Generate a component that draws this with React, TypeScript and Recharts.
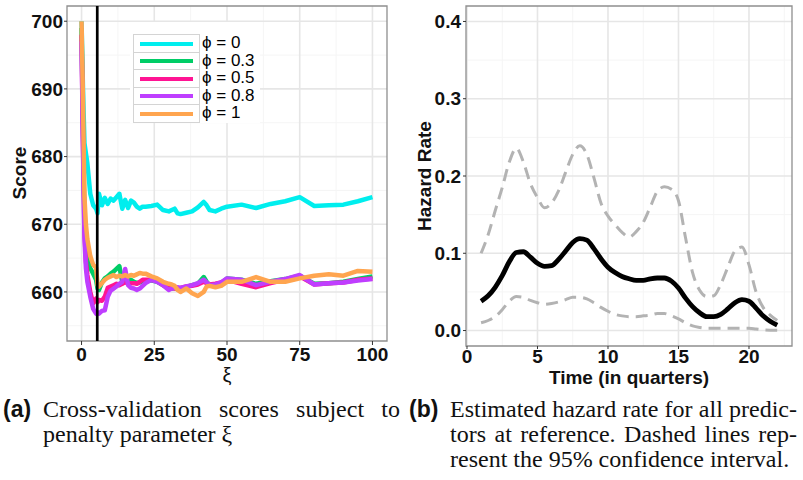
import { LineChart, Line, XAxis, YAxis, CartesianGrid, ReferenceLine, ReferenceArea } from "recharts";

// ---- panel (a): cross-validation score vs penalty xi ----
const xi = [
  0, 0.5, 1, 1.5, 2, 3, 4, 5, 5.5, 6, 7, 8, 9, 10, 11, 12, 13, 14, 15, 16, 17, 18, 19, 20, 21, 22, 24, 26,
  28, 30, 31, 32, 33, 34, 36, 38, 40, 42, 43, 44, 46, 48, 50, 55, 60, 65, 70, 75, 80, 85, 90, 95, 100,
];
const phi0 = [
  700, 690, 682, 680.5, 679, 674.5, 672.8, 672.3, 671.6, 674.5, 672.8, 673.9, 673, 673.8, 673.5, 674, 674.5,
  672.3, 673.6, 672.4, 673.5, 673.2, 672.6, 672.3, 672.6, 672.6, 672.7, 672.9, 672.1, 671.9, 672.1, 672.3,
  671.6, 671.5, 671.7, 671.9, 672.5, 673.3, 672.8, 672.1, 671.9, 672.3, 672.6, 672.9, 672.4, 673, 673.4, 674,
  672.7, 672.8, 672.9, 673.4, 674,
];
const phi03 = [
  699, 684, 671, 666.5, 664.8, 663.5, 662.7, 661.8, 660.5, 660.3, 661.4, 662, 662.3, 662.7, 663, 663.4, 663.8,
  661.5, 662.4, 661.6, 661.8, 661.5, 661.3, 661.4, 661.6, 661.6, 661.7, 661.5, 661, 660.5, 660.5, 660.6, 660.4,
  660.4, 660.7, 661, 661.2, 662.2, 661.5, 661, 661.1, 661.3, 662, 661.8, 661.2, 661.6, 661.9, 662.4, 661.2,
  661.3, 661.5, 661.9, 662.3,
];
const phi05 = [
  698, 682, 669, 664.5, 662.5, 660, 658.3, 659, 658.5, 658.8, 658.7, 659.3, 660.6, 660.8, 661, 661.2, 661,
  661.2, 661.5, 661.2, 661.3, 661.3, 661.2, 661.5, 661.8, 661.8, 661.8, 661.6, 661, 660.8, 660.6, 660.5, 660.5,
  660.6, 660.8, 660.9, 661.1, 661.5, 661.3, 661.1, 661.2, 661.4, 661.8, 661.2, 660.7, 661.3, 661.8, 662.3,
  661.1, 661.3, 661.4, 661.8, 662,
];
const phi08 = [
  697, 681, 668, 663.5, 661.5, 659.3, 657.5, 656.8, 657, 656.8, 657.2, 657.3, 659.3, 660.2, 660.5, 660.8,
  661.2, 661.5, 663.4, 661, 660.6, 660.5, 660.3, 660.5, 660.9, 661.3, 661.8, 661.5, 661, 660.3, 660.5, 660.6,
  660.7, 660.6, 660.8, 661, 661.3, 661.8, 661.4, 661, 661.1, 661.4, 662, 661.8, 661, 661.5, 661.9, 662.5,
  661.1, 661.3, 661.4, 661.7, 661.9,
];
const phi1 = [
  700, 688, 674, 670, 667.8, 665.3, 664, 663.6, 661, 660.8, 661.3, 661.8, 662.1, 662.3, 662.5, 662.2, 662.4,
  662.3, 662.5, 662.3, 662.5, 662.4, 662.6, 662.8, 662.7, 662.7, 662.3, 662, 661.5, 661.2, 661.1, 660.9,
  660.3, 660, 660.5, 659.8, 659.4, 660, 660.8, 660.9, 660.7, 660.9, 661.5, 661.5, 662.2, 661.5, 661.5, 662,
  662.4, 662.6, 662.4, 663.1, 663,
];
const phiLabels = ["ϕ = 0", "ϕ = 0.3", "ϕ = 0.5", "ϕ = 0.8", "ϕ = 1"];
const phiColors = ["#00EEEE", "#00CD66", "#FF1493", "#BF3EFF", "#FFA54F"];
const xiTicks = [0, 25, 50, 75, 100];
const xiMinor = [12.5, 37.5, 62.5, 87.5];
const scoreTicks = [660, 670, 680, 690, 700];
const scoreMinor = [655, 665, 675, 685, 695];
const chosenXi = 5.4;

// ---- panel (b): hazard rate with 95% CI ----
const time = [
  1, 1.5, 2, 2.5, 3, 3.5, 4, 4.5, 5, 5.5, 6, 6.5, 7, 7.5, 8, 8.5, 9, 9.5, 10, 10.5, 11, 11.5, 12, 12.5, 13,
  13.5, 14, 14.5, 15, 15.5, 16, 16.5, 17, 17.5, 18, 18.5, 19, 19.5, 20, 20.5, 21, 21.5, 22,
];
const hazard = [
  0.038, 0.045, 0.056, 0.071, 0.089, 0.101, 0.102, 0.095, 0.087, 0.083, 0.084, 0.092, 0.103, 0.114, 0.119,
  0.117, 0.106, 0.093, 0.082, 0.075, 0.07, 0.067, 0.065, 0.065, 0.067, 0.068, 0.068, 0.064, 0.055, 0.042,
  0.031, 0.023, 0.018, 0.018, 0.021, 0.028, 0.036, 0.04, 0.038, 0.029, 0.019, 0.012, 0.007,
];
const upperCI = [
  0.1, 0.124, 0.155, 0.185, 0.218, 0.236, 0.218, 0.19, 0.172, 0.159, 0.165, 0.181, 0.205, 0.228, 0.239,
  0.228, 0.198, 0.165, 0.148, 0.137, 0.127, 0.121, 0.128, 0.14, 0.16, 0.18, 0.186, 0.183, 0.168, 0.12, 0.075,
  0.052, 0.044, 0.045, 0.06, 0.082, 0.103, 0.108, 0.085, 0.05, 0.03, 0.02, 0.013,
];
const lowerCI = [
  0.01, 0.013, 0.018, 0.027, 0.038, 0.044, 0.043, 0.039, 0.036, 0.034, 0.035, 0.037, 0.04, 0.043, 0.043,
  0.041, 0.036, 0.03, 0.025, 0.021, 0.019, 0.018, 0.018, 0.019, 0.02, 0.022, 0.022, 0.019, 0.015, 0.01,
  0.006, 0.004, 0.003, 0.003, 0.003, 0.003, 0.003, 0.003, 0.003, 0.002, 0.001, 0.0005, 0.0003,
];
const timeTicks = [0, 5, 10, 15, 20];
const timeMinor = [2.5, 7.5, 12.5, 17.5, 22.5];
const rateTicks = [0, 0.1, 0.2, 0.3, 0.4];
const rateMinor = [0.05, 0.15, 0.25, 0.35];

const phiSeries = [phi0, phi03, phi05, phi08, phi1];
const scoreRows = xi.map((x, i) => {
  const row: Record<string, number> = { xi: x };
  phiSeries.forEach((s, k) => (row["s" + k] = s[i]));
  return row;
});
const hazardRows = time.map((t, i) => ({ t, h: hazard[i], up: upperCI[i], lo: lowerCI[i] }));

const SANS = "'Liberation Sans', Arial, sans-serif";
const SERIF = "'Liberation Serif', 'Times New Roman', serif";
const tickStyle = { fontFamily: SANS, fontSize: 19, fontWeight: 700, fill: "#111" };
const majorGrid = "#e6e6e6";
const minorGrid = "#f5f5f5";
const border = "#8f8f8f";

const title = (text: string, x: number, y: number, rotate = false, extra = {}) => (
  <div
    style={{
      position: "absolute",
      left: x,
      top: y,
      transform: `translate(-50%, -50%)${rotate ? " rotate(-90deg)" : ""}`,
      whiteSpace: "nowrap",
      fontFamily: SANS,
      fontWeight: 700,
      fontSize: 19,
      lineHeight: "20px",
      color: "#111",
      ...extra,
    }}
  >
    {text}
  </div>
);

function ScorePanel() {
  return (
    <div style={{ position: "absolute", left: 0, top: 0 }}>
      <LineChart width={400} height={380} data={scoreRows} margin={{ top: 6, right: 13, bottom: 0, left: 0 }}>
        <CartesianGrid stroke={minorGrid} strokeWidth={1} horizontalValues={scoreMinor} verticalValues={xiMinor} />
        <CartesianGrid stroke={majorGrid} strokeWidth={1.6} horizontalValues={scoreTicks} verticalValues={xiTicks} />
        <XAxis
          type="number"
          dataKey="xi"
          domain={[-5, 105]}
          ticks={xiTicks}
          allowDataOverflow
          height={39}
          axisLine={false}
          tickSize={4}
          tickMargin={3}
          tickLine={{ stroke: "#333" }}
          tick={tickStyle}
        />
        <YAxis
          type="number"
          domain={[652.75, 702.25]}
          ticks={scoreTicks}
          allowDataOverflow
          width={67}
          axisLine={false}
          tickSize={3}
          tickMargin={1}
          tickLine={{ stroke: "#333" }}
          tick={tickStyle}
        />
        <ReferenceArea x1={-5} x2={105} y1={652.75} y2={702.25} fill="none" stroke={border} strokeWidth={1.3} />
        {phiSeries.map((_, k) => (
          <Line
            key={k}
            type="linear"
            dataKey={"s" + k}
            stroke={phiColors[k]}
            strokeWidth={4.5}
            strokeLinejoin="round"
            dot={false}
            isAnimationActive={false}
          />
        ))}
        <ReferenceLine x={chosenXi} stroke="#000" strokeWidth={2.7} />
      </LineChart>
      <div
        style={{
          position: "absolute",
          left: 130,
          top: 22,
          width: 130,
          height: 101,
          background: "#fff",
        }}
      >
        {phiLabels.map((lab, k) => (
          <div key={k} style={{ position: "absolute", left: 3, top: 12 + k * 17.5, height: 17.5, width: 130 }}>
            <div
              style={{
                position: "absolute",
                left: 0,
                top: 0,
                width: 65,
                height: 16.5,
                border: "1px solid #d4d4d4",
                background: "#fff",
              }}
            >
              <div
                style={{
                  position: "absolute",
                  left: 6,
                  top: 6.5,
                  width: 53,
                  height: 4,
                  background: phiColors[k],
                }}
              />
            </div>
            <div
              style={{
                position: "absolute",
                left: 69,
                top: -1,
                fontFamily: SANS,
                fontSize: 17,
                lineHeight: "19px",
                color: "#000",
                whiteSpace: "nowrap",
              }}
            >
              {lab}
            </div>
          </div>
        ))}
      </div>
      {title("Score", 20, 173, true)}
      {title("ξ", 227, 375, false, { fontWeight: 400, fontSize: 20, lineHeight: "18px" })}
    </div>
  );
}

function HazardPanel() {
  return (
    <div style={{ position: "absolute", left: 400, top: 0 }}>
      <LineChart width={403} height={380} data={hazardRows} margin={{ top: 6, right: 11, bottom: 0, left: 0 }}>
        <CartesianGrid stroke={minorGrid} strokeWidth={1} horizontalValues={rateMinor} verticalValues={timeMinor} />
        <CartesianGrid stroke={majorGrid} strokeWidth={1.6} horizontalValues={rateTicks} verticalValues={timeTicks} />
        <XAxis
          type="number"
          dataKey="t"
          domain={[-0.07, 23.05]}
          ticks={timeTicks}
          allowDataOverflow
          height={34}
          axisLine={false}
          tickSize={3}
          tickMargin={1}
          tickLine={{ stroke: "#333" }}
          tick={tickStyle}
        />
        <YAxis
          type="number"
          domain={[-0.02, 0.42]}
          ticks={rateTicks}
          allowDataOverflow
          width={66}
          axisLine={false}
          tickSize={3}
          tickMargin={2}
          tickLine={{ stroke: "#333" }}
          tick={tickStyle}
          tickFormatter={(v: number) => v.toFixed(1)}
        />
        <ReferenceArea x1={-0.07} x2={23.05} y1={-0.02} y2={0.42} fill="none" stroke={border} strokeWidth={1.3} />
        <Line type="monotone" dataKey="up" stroke="#b3b3b3" strokeWidth={3} strokeDasharray="12 7" dot={false} isAnimationActive={false} />
        <Line type="monotone" dataKey="lo" stroke="#b3b3b3" strokeWidth={3} strokeDasharray="12 7" dot={false} isAnimationActive={false} />
        <Line type="monotone" dataKey="h" stroke="#000" strokeWidth={4.8} dot={false} isAnimationActive={false} />
      </LineChart>
      {title("Hazard Rate", 25, 176, true)}
      {title("Time (in quarters)", 229, 378)}
    </div>
  );
}

const capText = { fontFamily: SERIF, fontSize: 24, letterSpacing: 0, color: "#111", lineHeight: "25px" };
const capTag = { fontFamily: SANS, fontSize: 23, fontWeight: 700, color: "#111", lineHeight: "25px" };

function CapLine({ x, y, w, text, justify }: { x: number; y: number; w: number; text: string; justify?: boolean }) {
  return (
    <div
      style={{
        position: "absolute",
        left: x,
        top: y,
        width: w,
        ...capText,
        whiteSpace: "nowrap",
        textAlign: justify ? "justify" : "left",
        textAlignLast: justify ? "justify" : "left",
      }}
    >
      {text}
    </div>
  );
}

export default function App() {
  return (
    <div style={{ position: "absolute", left: 0, top: 0, width: 803, height: 480, background: "#fff", overflow: "hidden" }}>
      <ScorePanel />
      <HazardPanel />
      <div style={{ position: "absolute", left: 3, top: 397, ...capTag }}>(a)</div>
      <CapLine x={43} y={397} w={357} text="Cross-validation scores subject to" justify />
      <CapLine x={43} y={422} w={357} text="penalty parameter ξ" />
      <div style={{ position: "absolute", left: 409, top: 397, ...capTag }}>(b)</div>
      <CapLine x={450} y={397} w={347} text="Estimated hazard rate for all predic-" justify />
      <CapLine x={450} y={422} w={347} text="tors at reference. Dashed lines rep-" justify />
      <CapLine x={450} y={447} w={347} text="resent the 95% confidence interval." />
    </div>
  );
}
